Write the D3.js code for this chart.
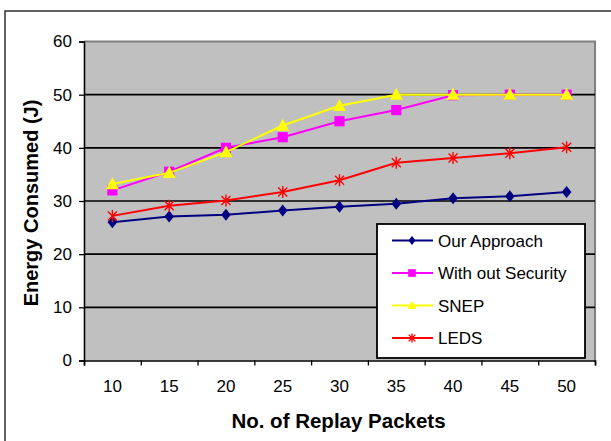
<!DOCTYPE html>
<html>
<head>
<meta charset="utf-8">
<script src="https://cdn.jsdelivr.net/npm/d3@7"></script>
<style>
  html, body { margin: 0; padding: 0; background: #ffffff; }
  svg { display: block; }
  text { font-family: "Liberation Sans", Arial, sans-serif; }
</style>
</head>
<body>
<svg id="chart" width="611" height="441"></svg>
<script>
const categories = ["10", "15", "20", "25", "30", "35", "40", "45", "50"];
const ourApproach = [26.0, 27.1, 27.4, 28.2, 28.9, 29.5, 30.5, 30.9, 31.7];
const withoutSecurity = [32.0, 35.5, 40.0, 42.0, 45.0, 47.1, 49.9, 50.0, 50.0];
const snep = [33.2, 35.3, 39.2, 44.2, 47.9, 50.0, 50.0, 50.0, 50.0];
const leds = [27.2, 29.1, 30.1, 31.7, 33.9, 37.2, 38.1, 39.0, 40.1];
const yTicks = [0, 10, 20, 30, 40, 50, 60];
const seriesNames = ["Our Approach", "With out Security", "SNEP", "LEDS"];
const seriesColors = ["#000080", "#FF00FF", "#FFFF00", "#FF0000"];
const seriesShapes = ["diamond", "square", "triangle", "star"];
const xTitle = "No. of Replay Packets";
const yTitle = "Energy Consumed (J)";

const seriesData = [ourApproach, withoutSecurity, snep, leds];

const svg = d3.select("#chart");
const L = 84, R = 595, T = 41.5, B = 360.5;

const x = d3.scaleBand().domain(categories).range([L, R]);
const y = d3.scaleLinear().domain([0, 60]).range([B, T]);
const xEdge = d3.scaleLinear().domain([0, categories.length]).range([L, R]);

// outer frame
svg.append("rect").attr("x", 5).attr("y", 11).attr("width", 620).attr("height", 450)
  .attr("fill", "none").attr("stroke", "#303030").attr("stroke-width", 1.5);

// plot area
svg.append("rect").attr("x", L).attr("y", T).attr("width", R - L).attr("height", B - T)
  .attr("fill", "#C0C0C0");
svg.append("path").attr("d", `M${L},${T}H${R}V${B}`)
  .attr("fill", "none").attr("stroke", "#808080").attr("stroke-width", 2);

// gridlines
svg.append("g").selectAll("line").data(yTicks.filter(v => v > 0 && v < 60)).join("line")
  .attr("x1", L).attr("x2", R).attr("y1", d => y(d)).attr("y2", d => y(d))
  .attr("stroke", "#000").attr("stroke-width", 1.6);

// y axis
const yAxis = svg.append("g").attr("transform", `translate(${L},0)`)
  .call(d3.axisLeft(y).tickValues(yTicks).tickSize(5).tickPadding(7).tickFormat(d3.format("d")));
yAxis.select(".domain").attr("stroke", "#000").attr("stroke-width", 1.6);
yAxis.selectAll(".tick line").attr("stroke", "#000").attr("stroke-width", 1.3);
yAxis.selectAll("text").attr("font-size", 17).attr("fill", "#000")
  .attr("font-family", "'Liberation Sans', Arial, sans-serif");

// x axis: edge ticks
const xTickAxis = svg.append("g").attr("transform", `translate(0,${B})`)
  .call(d3.axisBottom(xEdge).tickValues(d3.range(categories.length + 1)).tickSize(5).tickFormat(""));
xTickAxis.select(".domain").attr("stroke", "#000").attr("stroke-width", 1.6);
xTickAxis.selectAll(".tick line").attr("stroke", "#000").attr("stroke-width", 1.3);

// x axis labels
const xAxis = svg.append("g").attr("transform", `translate(0,${B})`)
  .call(d3.axisBottom(x).tickSize(0).tickPadding(19.5));
xAxis.select(".domain").remove();
xAxis.selectAll("text").attr("font-size", 17).attr("fill", "#000")
  .attr("font-family", "'Liberation Sans', Arial, sans-serif");

// marker drawing
function marker(g, shape, color, s) {
  if (shape === "diamond") {
    g.append("path").attr("d", `M0,${-s}L${s * 0.8},0L0,${s}L${-s * 0.8},0Z`).attr("fill", color);
  } else if (shape === "square") {
    g.append("rect").attr("x", -s * 0.85).attr("y", -s * 0.85).attr("width", s * 1.7).attr("height", s * 1.7).attr("fill", color);
  } else if (shape === "triangle") {
    g.append("path").attr("d", `M0,${-s * 1.05}L${s},${s * 0.8}L${-s},${s * 0.8}Z`).attr("fill", color);
  } else if (shape === "star") {
    const k = s * 0.75;
    g.append("path").attr("d", `M${-k},${-k}L${k},${k}M${-k},${k}L${k},${-k}M0,${-s}V${s}`)
      .attr("stroke", color).attr("stroke-width", 1.4).attr("fill", "none");
  }
}

const line = d3.line().x((d, i) => x(categories[i]) + x.bandwidth() / 2).y(d => y(d));

seriesData.forEach((vals, si) => {
  const g = svg.append("g");
  g.append("path").datum(vals).attr("d", line)
    .attr("fill", "none").attr("stroke", seriesColors[si]).attr("stroke-width", 2);
  vals.forEach((v, i) => {
    const mg = g.append("g").attr("transform", `translate(${x(categories[i]) + x.bandwidth() / 2},${y(v)})`);
    marker(mg, seriesShapes[si], seriesColors[si], si === 2 ? 6.5 : 6);
  });
});

// legend
const lg = svg.append("g");
lg.append("rect").attr("x", 377).attr("y", 224).attr("width", 208).attr("height", 134)
  .attr("fill", "#fff").attr("stroke", "#000").attr("stroke-width", 1.8);
const legY = d3.scalePoint().domain(seriesNames).range([240.5, 338]);
seriesNames.forEach((name, si) => {
  const yy = legY(name);
  lg.append("line").attr("x1", 392).attr("x2", 433).attr("y1", yy).attr("y2", yy)
    .attr("stroke", seriesColors[si]).attr("stroke-width", 2);
  const mg = lg.append("g").attr("transform", `translate(412,${yy})`);
  marker(mg, seriesShapes[si], seriesColors[si], 4.5);
  lg.append("text").attr("x", 438).attr("y", yy).attr("dy", "0.36em")
    .attr("font-size", 17).attr("fill", "#000").text(name);
});

// titles
svg.append("text").attr("x", 338.5).attr("y", 428).attr("text-anchor", "middle")
  .attr("font-size", 20.5).attr("font-weight", "bold").attr("fill", "#000").text(xTitle);
svg.append("text").attr("transform", `translate(38,203) rotate(-90)`).attr("text-anchor", "middle")
  .attr("font-size", 20).attr("font-weight", "bold").attr("fill", "#000").text(yTitle);
</script>
</body>
</html>
